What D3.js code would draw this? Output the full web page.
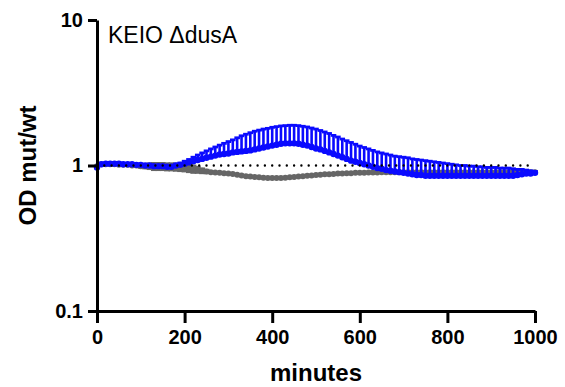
<!DOCTYPE html>
<html><head><meta charset="utf-8">
<script src="https://cdn.jsdelivr.net/npm/d3@7"></script>
<style>
html,body{margin:0;padding:0;background:#fff;}
svg{display:block;font-family:"Liberation Sans",Arial,sans-serif;}
</style></head>
<body>
<svg id="c" width="565" height="387"></svg>
<script>
const minutes = d3.range(0, 1001, 10);
const xTicks = [0, 200, 400, 600, 800, 1000];
const yTicks = [0.1, 1, 10];
const yTickLabels = ["0.1", "1", "10"];
const title = "KEIO \u0394dusA";
const xTitle = "minutes";
const yTitle = "OD mut/wt";

// mutant / wt ratio, blue series (mean) and its upper error bar end
const blueMean = [0.97,1.02,1.03,1.03,1.03,1.03,1.02,1.02,1.02,1.01,
  1.01,1.00,1.00,0.99,0.99,0.99,0.98,0.98,1.00,1.01,
  1.03,1.05,1.07,1.09,1.11,1.13,1.15,1.17,1.19,1.20,
  1.21,1.23,1.24,1.25,1.26,1.27,1.29,1.31,1.33,1.35,
  1.37,1.39,1.41,1.42,1.42,1.42,1.41,1.39,1.37,1.34,
  1.31,1.29,1.26,1.23,1.20,1.17,1.14,1.11,1.08,1.06,
  1.04,1.02,1.00,0.98,0.96,0.95,0.93,0.92,0.91,0.90,
  0.89,0.88,0.87,0.86,0.86,0.85,0.85,0.85,0.85,0.85,
  0.85,0.85,0.85,0.85,0.85,0.85,0.85,0.85,0.85,0.85,
  0.85,0.85,0.85,0.85,0.85,0.85,0.86,0.87,0.88,0.88,0.89];
const blueUpper = [0.98,1.03,1.04,1.04,1.04,1.04,1.03,1.03,1.03,1.02,
  1.02,1.01,1.01,1.00,1.00,1.00,1.00,1.00,1.02,1.04,
  1.07,1.10,1.14,1.18,1.22,1.26,1.30,1.34,1.38,1.42,
  1.46,1.50,1.55,1.60,1.64,1.68,1.72,1.75,1.78,1.80,
  1.83,1.85,1.87,1.88,1.89,1.89,1.88,1.86,1.84,1.81,
  1.78,1.74,1.70,1.66,1.61,1.57,1.52,1.48,1.44,1.40,
  1.36,1.33,1.30,1.27,1.24,1.22,1.20,1.18,1.16,1.15,
  1.14,1.13,1.11,1.10,1.09,1.08,1.07,1.06,1.05,1.04,
  1.03,1.02,1.01,1.00,1.00,0.99,0.99,0.98,0.98,0.97,
  0.97,0.97,0.96,0.96,0.96,0.95,0.94,0.94,0.93,0.92,0.91];
// gray series (mean) and symmetric error
const grayMean = [0.99,1.02,1.02,1.02,1.02,1.01,1.01,1.01,1.00,1.00,
  0.99,0.99,0.99,0.985,0.985,0.985,0.98,0.98,0.975,0.97,
  0.965,0.955,0.945,0.935,0.92,0.91,0.90,0.895,0.89,0.885,
  0.88,0.875,0.865,0.855,0.845,0.84,0.835,0.83,0.825,0.82,
  0.82,0.82,0.82,0.825,0.83,0.835,0.84,0.845,0.85,0.855,
  0.86,0.865,0.87,0.87,0.875,0.88,0.88,0.885,0.885,0.89,
  0.89,0.89,0.895,0.895,0.895,0.90,0.90,0.90,0.90,0.90,
  0.90,0.90,0.90,0.90,0.90,0.90,0.90,0.90,0.90,0.90,
  0.90,0.90,0.90,0.90,0.90,0.90,0.90,0.90,0.90,0.90,
  0.90,0.90,0.90,0.90,0.90,0.90,0.90,0.90,0.90,0.90,0.90];
const grayErr = [0.01,0.01,0.01,0.01,0.01,0.01,0.01,0.01,0.01,0.01,
  0.02,0.03,0.04,0.05,0.05,0.05,0.05,0.05,0.05,0.05,
  0.05,0.05,0.05,0.04,0.03,0.02,0.01,0.01,0.01,0.01,
  0.01,0.01,0.01,0.01,0.01,0.01,0.01,0.01,0.01,0.01,
  0.01,0.01,0.01,0.01,0.01,0.01,0.01,0.01,0.01,0.01,
  0.01,0.01,0.01,0.01,0.01,0.01,0.01,0.01,0.01,0.01,
  0.01,0.01,0.01,0.01,0.01,0.01,0.01,0.01,0.01,0.01,
  0.01,0.01,0.01,0.01,0.01,0.01,0.01,0.01,0.01,0.01,
  0.01,0.01,0.01,0.01,0.01,0.01,0.01,0.01,0.01,0.01,
  0.01,0.01,0.01,0.01,0.01,0.01,0.01,0.01,0.01,0.01,0.01];

const blue = "#0a0aff", gray = "#666666";
const svg = d3.select("#c");
const x = d3.scaleLinear().domain([0, 1000]).range([97, 535]);
const y = d3.scaleLog().domain([0.1, 10]).range([311, 20]);

// gray series
const gData = minutes.map((t, i) => ({t, m: grayMean[i], e: grayErr[i]}));
const gG = svg.append("g");
gG.selectAll("line.eb").data(gData).join("line")
  .attr("x1", d => x(d.t)).attr("x2", d => x(d.t))
  .attr("y1", d => y(d.m - d.e)).attr("y2", d => y(d.m + d.e))
  .attr("stroke", gray).attr("stroke-width", 2.4);
gG.selectAll("line.ct").data(gData.filter(d => d.e > 0.015)).join("line")
  .attr("x1", d => x(d.t) - 3).attr("x2", d => x(d.t) + 3)
  .attr("y1", d => y(d.m + d.e)).attr("y2", d => y(d.m + d.e))
  .attr("stroke", gray).attr("stroke-width", 2.6);
gG.selectAll("line.cb").data(gData.filter(d => d.e > 0.015)).join("line")
  .attr("x1", d => x(d.t) - 3).attr("x2", d => x(d.t) + 3)
  .attr("y1", d => y(d.m - d.e)).attr("y2", d => y(d.m - d.e))
  .attr("stroke", gray).attr("stroke-width", 2.6);
gG.append("path").datum(gData)
  .attr("d", d3.line().x(d => x(d.t)).y(d => y(d.m)))
  .attr("fill", "none").attr("stroke", gray).attr("stroke-width", 2.4);
gG.selectAll("circle").data(gData).join("circle")
  .attr("cx", d => x(d.t)).attr("cy", d => y(d.m)).attr("r", 3).attr("fill", gray);

// blue series
const bData = minutes.map((t, i) => ({t, m: blueMean[i], u: blueUpper[i]}));
const bG = svg.append("g");
bG.selectAll("line.eb").data(bData).join("line")
  .attr("x1", d => x(d.t)).attr("x2", d => x(d.t))
  .attr("y1", d => y(d.m)).attr("y2", d => y(d.u))
  .attr("stroke", blue).attr("stroke-width", 2.6);
bG.selectAll("line.cap").data(bData).join("line")
  .attr("x1", d => x(d.t) - 2.8).attr("x2", d => x(d.t) + 2.8)
  .attr("y1", d => y(d.u)).attr("y2", d => y(d.u))
  .attr("stroke", blue).attr("stroke-width", 2.8);
bG.append("path").datum(bData)
  .attr("d", d3.line().x(d => x(d.t)).y(d => y(d.m)))
  .attr("fill", "none").attr("stroke", blue).attr("stroke-width", 2.4);
bG.selectAll("circle").data(bData).join("circle")
  .attr("cx", d => x(d.t)).attr("cy", d => y(d.m)).attr("r", 3.2).attr("fill", blue);

// reference dotted line at 1
svg.append("line")
  .attr("x1", x(0)).attr("x2", x(1000)).attr("y1", y(1)).attr("y2", y(1))
  .attr("stroke", "#000").attr("stroke-width", 2.4)
  .attr("stroke-dasharray", "0,7.3").attr("stroke-linecap", "round");

// axes
const xAxis = svg.append("g").attr("transform", `translate(0,${y(0.1)})`)
  .call(d3.axisBottom(x).tickValues(xTicks).tickFormat(d3.format("d")).tickSize(12).tickPadding(7).tickSizeOuter(0));
const yAxis = svg.append("g").attr("transform", `translate(${x(0)},0)`)
  .call(d3.axisLeft(y).tickValues(yTicks).tickFormat((d, i) => yTickLabels[i]).tickSize(9).tickPadding(5).tickSizeOuter(0));
[xAxis, yAxis].forEach(a => {
  a.select(".domain").attr("stroke", "#000").attr("stroke-width", 3);
  a.selectAll(".tick line").attr("stroke", "#000").attr("stroke-width", 3);
  a.selectAll(".tick text").attr("fill", "#000")
    .style("font-size", "20px").style("font-weight", "bold")
    .style("font-family", "'Liberation Sans', Arial, sans-serif");
});

svg.append("text").attr("x", (x(0) + x(1000)) / 2).attr("y", 381)
  .attr("text-anchor", "middle").style("font-size", "24px").style("font-weight", "bold")
  .text(xTitle);
svg.append("text").attr("transform", `translate(36,${y(1)}) rotate(-90)`)
  .attr("text-anchor", "middle").style("font-size", "24px").style("font-weight", "bold")
  .text(yTitle);
svg.append("text").attr("x", 108).attr("y", 43)
  .style("font-size", "23px").text(title);
</script>
</body></html>
